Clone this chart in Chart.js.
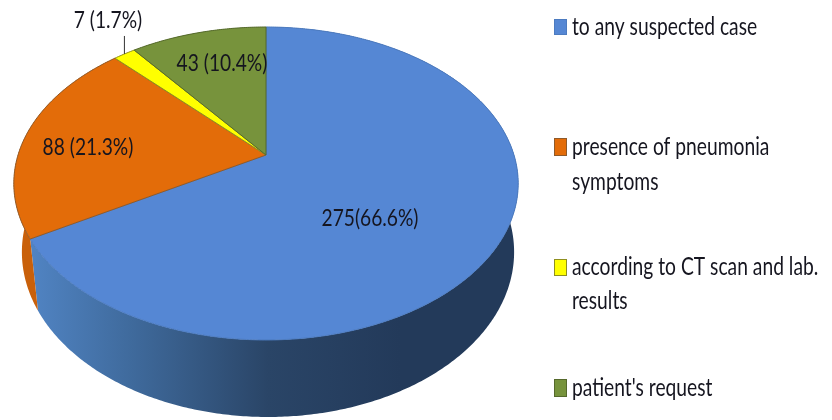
<!DOCTYPE html>
<html lang="en">
<head>
    <meta charset="UTF-8" />
    <title>Pie chart</title>
    <script src="https://cdn.jsdelivr.net/npm/chart.js"></script>
    <style>
        body {
            margin: 0;
            background: #fff;
        }

        canvas {
            display: block;
        }
    </style>
</head>
<body>
    <canvas id="pieChart" width="832" height="420"></canvas>

    <script>
        const categories = ['to any suspected case', 'presence of pneumonia symptoms', 'according to CT scan and lab. results', "patient's request"];
        const counts = [275, 88, 7, 43];
        const valueLabels = ['275(66.6%)', '88 (21.3%)', '7 (1.7%)', '43 (10.4%)'];
        const sliceColors = ['#5587d4', '#e36c09', '#ffff00', '#77933c'];
        const edgeColors = ['#4c7bc0', '#8f5a2a', '#8f8f20', '#55692c'];

        const fontName = 'Lato, "Liberation Sans", sans-serif';
        const textColor = '#15151f';
        const labelSqueeze = 0.8;
        const legendSqueeze = 0.77;

        // perspective disc: top face and the lower rim of the side wall
        const tilt = -0.182;
        const topFace = { cx: 266, y0: 155, c: 248, b: 151.3 };
        const lowerRim = { cx: 268, y0: 222, c: 242, b: 159.5 };

        const labelCenters = [[370, 218], [88, 147], [108, 20], [222, 63]];
        const legendBoxes = [[554, 19, 13, 16], [554, 138, 13, 18], [554, 259, 13, 17], [554, 379, 13, 18]];
        const legendText = [[572, 27, 35], [572, 147, 35], [572, 267, 34], [572, 388, 34]];

        function project(angle, face) {
            const u = Math.cos(angle), v = Math.sin(angle), w = 1 + tilt * v;
            return { x: face.cx + face.c * u / w, y: face.y0 + face.b * v / w };
        }

        function rimPoints(arc, face) {
            const pts = [];
            const steps = Math.max(2, Math.ceil((arc.endAngle - arc.startAngle) / 0.01));
            for (let i = 0; i <= steps; i++) {
                pts.push(project(arc.startAngle + (arc.endAngle - arc.startAngle) * i / steps, face));
            }
            return pts;
        }

        function tracePath(ctx, pts) {
            ctx.beginPath();
            pts.forEach((p, i) => (i ? ctx.lineTo(p.x, p.y) : ctx.moveTo(p.x, p.y)));
            ctx.closePath();
        }

        function wallFill(ctx, index) {
            if (index === 0) {
                const g = ctx.createLinearGradient(33, 0, 400, 0);
                g.addColorStop(0, '#5083c2');
                g.addColorStop(0.27, '#3f6a9c');
                g.addColorStop(0.64, '#2a4567');
                g.addColorStop(1, '#233a5a');
                return g;
            }
            return index === 1 ? '#c9600a' : sliceColors[index];
        }

        // the labels are set in a tall narrow cut, so squeeze the text horizontally
        function drawText(ctx, text, x, y, squeeze) {
            ctx.save();
            ctx.translate(x, y);
            ctx.scale(squeeze, 1);
            ctx.fillText(text, 0, 0);
            ctx.restore();
        }

        function wrapLines(ctx, text, maxWidth) {
            const lines = [];
            let line = '';
            text.split(' ').forEach(word => {
                const next = line ? line + ' ' + word : word;
                if (line && ctx.measureText(next).width * legendSqueeze > maxWidth) {
                    lines.push(line);
                    line = word;
                } else {
                    line = next;
                }
            });
            lines.push(line);
            return lines;
        }

        const disc3d = {
            id: 'disc3d',
            // the library works out the slice angles, they are painted here through the perspective
            beforeDatasetDraw(chart) {
                const ctx = chart.ctx;
                const arcs = chart.getDatasetMeta(0).data;

                arcs.forEach((arc, i) => {
                    const pts = rimPoints(arc, topFace).concat(rimPoints(arc, lowerRim).reverse());
                    tracePath(ctx, pts);
                    ctx.fillStyle = wallFill(ctx, i);
                    ctx.fill();
                });

                arcs.forEach((arc, i) => {
                    const apex = { x: topFace.cx, y: topFace.y0 };
                    tracePath(ctx, [apex].concat(rimPoints(arc, topFace)));
                    ctx.fillStyle = sliceColors[i];
                    ctx.fill();
                    ctx.strokeStyle = edgeColors[i];
                    ctx.lineWidth = 1;
                    ctx.stroke();
                });
                return false;
            },
            afterDatasetsDraw(chart) {
                const ctx = chart.ctx;
                const arcs = chart.getDatasetMeta(0).data;

                // leader line of the thin slice
                const thin = arcs[2];
                const tip = project((thin.startAngle + thin.endAngle) / 2, topFace);
                ctx.strokeStyle = '#333';
                ctx.lineWidth = 1;
                ctx.beginPath();
                ctx.moveTo(tip.x, tip.y);
                ctx.lineTo(tip.x, tip.y - 18);
                ctx.stroke();

                ctx.fillStyle = textColor;
                ctx.textAlign = 'center';
                ctx.textBaseline = 'middle';
                ctx.font = '24px ' + fontName;
                valueLabels.forEach((label, i) => {
                    drawText(ctx, label, labelCenters[i][0], labelCenters[i][1], labelSqueeze);
                });

                ctx.textAlign = 'left';
                ctx.font = '25px ' + fontName;
                categories.forEach((name, i) => {
                    const box = legendBoxes[i];
                    ctx.fillStyle = sliceColors[i];
                    ctx.fillRect(box[0], box[1], box[2], box[3]);
                    ctx.strokeStyle = edgeColors[i];
                    ctx.lineWidth = 1;
                    ctx.strokeRect(box[0] + 0.5, box[1] + 0.5, box[2] - 1, box[3] - 1);

                    ctx.fillStyle = textColor;
                    const [x, y, lead] = legendText[i];
                    wrapLines(ctx, name, 252).forEach((line, n) => {
                        drawText(ctx, line, x, y + n * lead, legendSqueeze);
                    });
                });
            }
        };

        new Chart(document.getElementById('pieChart').getContext('2d'), {
            type: 'pie',
            data: {
                labels: categories,
                datasets: [{
                    data: counts,
                    backgroundColor: sliceColors
                }]
            },
            options: {
                responsive: false,
                animation: false,
                plugins: {
                    legend: { display: false },
                    tooltip: { enabled: false }
                }
            },
            plugins: [disc3d]
        });
    </script>
</body>
</html>
